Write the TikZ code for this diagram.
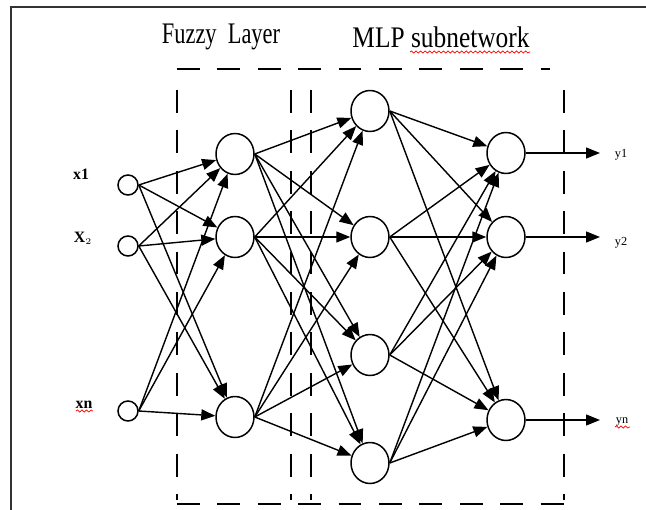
\documentclass[tikz,border=0pt]{standalone}
\usepackage{fontspec}
\setmainfont{Liberation Serif}
\usetikzlibrary{arrows.meta,calc,shapes.geometric,decorations.pathmorphing}
\tikzset{
	neuron/.style={draw,ellipse,line width=0.85pt,minimum width=0.76cm,minimum height=0.82cm,inner sep=0pt},
	inpt/.style={draw,circle,line width=0.85pt,minimum size=0.4cm,inner sep=0pt},
	link/.style={line width=0.8pt,-{Triangle[length=0.28cm,width=0.22cm]}},
	layerbox/.style={line width=1.1pt,dash pattern=on 13pt off 10pt},
	squiggle/.style={red,line width=0.4pt,decorate,decoration={snake,amplitude=0.6pt,segment length=2.6pt}},
	inlabel/.style={font=\bfseries\fontsize{9}{9}\selectfont,inner sep=0pt},
	outlabel/.style={font=\fontsize{7}{7}\selectfont,inner sep=0pt}
}

\begin{document}
\begin{tikzpicture}[x=0.02cm,y=-0.02cm]
		\useasboundingbox (0,0) rectangle (646,510);
		\draw[line width=1.2pt,black!80] (11,515) -- (11,7) -- (652,7);
		\node (fuzzy) at (221,37) {\fontsize{17}{20}\selectfont\scalebox{0.75}[1]{Fuzzy\ \ Layer}};
		\node (mlp) at (441,37) {\fontsize{17}{20}\selectfont\scalebox{0.85}[1]{MLP subnetwork}};
		\draw[squiggle] (410,52) -- (530,52);
		\draw[layerbox] (177,69) -- (550,69);
		\draw[layerbox] (177,504) -- (564,504);
		\foreach \x in {177,291,311,564}{
			\draw[layerbox] (\x,90) -- (\x,500);
		}
		\node[inpt] (I1) at (128,185) {};
		\node[inpt] (I2) at (128,246) {};
		\node[inpt] (I3) at (128,411) {};
		\node[neuron] (F1) at (235,154) {};
		\node[neuron] (F2) at (235,237) {};
		\node[neuron] (F3) at (235,417) {};
		\node[neuron] (H1) at (370,111) {};
		\node[neuron] (H2) at (370,237) {};
		\node[neuron] (H3) at (370,355) {};
		\node[neuron] (H4) at (370,463) {};
		\node[neuron] (O1) at (506,153) {};
		\node[neuron] (O2) at (506,237) {};
		\node[neuron] (O3) at (506,420) {};
		\node[inlabel] (x1) at (81,174) {x1};
		\node[inlabel] (x2) at (83,238) {X$_{\scriptscriptstyle 2}$};
		\node[inlabel] (xn) at (84,405) {xn};
		\draw[squiggle] (76,411) -- (93,411);
		\coordinate (E1) at (600,153);
		\coordinate (E2) at (600,237);
		\coordinate (E3) at (600,420);
		\node[outlabel] (y1) at (621,155) {y1};
		\node[outlabel] (y2) at (621,243) {y2};
		\node[outlabel] (yn) at (622,422) {yn};
		\draw[squiggle] (615,427) -- (630,427);
		\foreach \i in {1,2,3}{
			\foreach \j in {1,2,3}
				\draw[link] (I\i.east) -- (F\j);
			\foreach \j in {1,2,3,4}
				\draw[link] (F\i.east) -- (H\j);
			\draw[link] (O\i) -- (E\i);
		}
		\foreach \i in {1,2,3,4}
			\foreach \j in {1,2,3}
				\draw[link] (H\i.east) -- (O\j);
	\end{tikzpicture}
\end{document}
